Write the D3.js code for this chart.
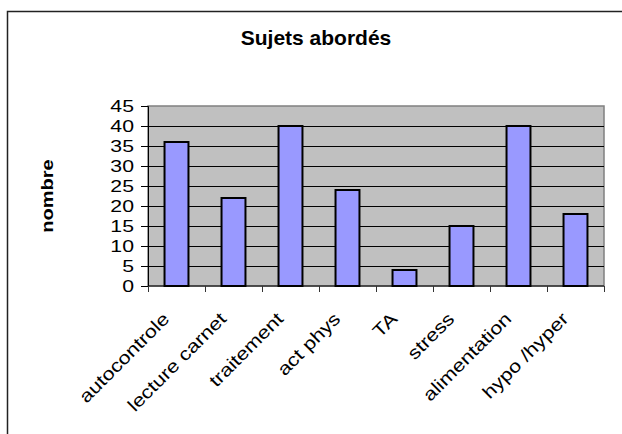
<!DOCTYPE html>
<html>
<head>
<meta charset="utf-8">
<script src="https://cdn.jsdelivr.net/npm/d3@7/dist/d3.min.js"></script>
<style>
  html, body { margin: 0; padding: 0; background: #fff; }
  svg { display: block; font-family: Arial, "Liberation Sans", sans-serif; }
</style>
</head>
<body>
<svg id="chart"></svg>
<script>
// DATA
const categories = ["autocontrole", "lecture carnet", "traitement", "act phys", "TA", "stress", "alimentation", "hypo /hyper"];
const values = [36, 22, 40, 24, 4, 15, 40, 18];
const yTicks = [0, 5, 10, 15, 20, 25, 30, 35, 40, 45];
const chartTitle = "Sujets abordés";
const yTitle = "nombre";

// LAYOUT
const width = 622;
const height = 434;
const plot = { left: 148, right: 604, top: 106, bottom: 286 };
const stretch = 1.25; // the original text is drawn wide
const labelStretch = 1.2;

const svg = d3.select("#chart")
    .attr("width", width)
    .attr("height", height);

// outer chart frame (runs past the right and bottom edges)
svg.append("rect")
    .attr("x", 7.5)
    .attr("y", 11.5)
    .attr("width", 640)
    .attr("height", 450)
    .attr("fill", "#fff")
    .attr("stroke", "#222")
    .attr("stroke-width", 1.5);

// scales
const x = d3.scaleBand()
    .domain(categories)
    .range([plot.left, plot.right])
    .paddingInner(0.58)
    .paddingOuter(0.29);

const y = d3.scaleLinear()
    .domain([0, 45])
    .range([plot.bottom, plot.top]);

// plot background
svg.append("rect")
    .attr("x", plot.left)
    .attr("y", y(45))
    .attr("width", plot.right - plot.left)
    .attr("height", y(0) - y(45))
    .attr("fill", "#c0c0c0")
    .attr("stroke", "#808080")
    .attr("stroke-width", 1.5);

// gridlines
svg.append("g")
    .selectAll("line")
    .data(yTicks.filter(d => d > 0 && d < 45))
    .join("line")
    .attr("x1", plot.left)
    .attr("x2", plot.right)
    .attr("y1", d => Math.round(y(d)) + 0.5)
    .attr("y2", d => Math.round(y(d)) + 0.5)
    .attr("stroke", "#000")
    .attr("stroke-width", 1);

// bars
svg.append("g")
    .selectAll("rect")
    .data(values)
    .join("rect")
    .attr("x", (d, i) => x(categories[i]))
    .attr("y", d => y(d))
    .attr("width", x.bandwidth())
    .attr("height", d => y(0) - y(d))
    .attr("fill", "#9999ff")
    .attr("stroke", "#000")
    .attr("stroke-width", 2);

// y axis
const yAxis = svg.append("g")
    .attr("transform", `translate(${plot.left}, 0)`)
    .call(d3.axisLeft(y).tickValues(yTicks).tickSize(7).tickPadding(7));

yAxis.select(".domain").attr("stroke", "#000");
yAxis.selectAll(".tick line").attr("stroke", "#000");
yAxis.selectAll(".tick text")
    .attr("font-size", 17)
    .attr("font-family", "Arial, 'Liberation Sans', sans-serif")
    .attr("fill", "#000")
    .attr("x", -14 / stretch)
    .attr("transform", `scale(${stretch},1)`);

// x axis line and boundary ticks
const step = x.step();
const boundaries = d3.range(categories.length + 1).map(i => plot.left + i * step);

svg.append("line")
    .attr("x1", plot.left)
    .attr("x2", plot.right)
    .attr("y1", y(0))
    .attr("y2", y(0))
    .attr("stroke", "#000");

svg.append("g")
    .selectAll("line")
    .data(boundaries)
    .join("line")
    .attr("x1", d => Math.round(d) + 0.5)
    .attr("x2", d => Math.round(d) + 0.5)
    .attr("y1", y(0))
    .attr("y2", y(0) + 6)
    .attr("stroke", "#333");

// category labels
svg.append("g")
    .selectAll("text")
    .data(categories)
    .join("text")
    .attr("transform", d => `translate(${x(d) + x.bandwidth() / 2 - 6}, ${y(0) + 34}) rotate(-45) scale(${labelStretch},1)`)
    .attr("text-anchor", "end")
    .attr("font-size", 18)
    .attr("fill", "#000")
    .text(d => d);

// title
svg.append("text")
    .attr("x", 316)
    .attr("y", 45)
    .attr("text-anchor", "middle")
    .attr("font-size", 21)
    .attr("font-weight", "bold")
    .text(chartTitle);

// y axis title
svg.append("text")
    .attr("transform", `translate(53, ${(plot.top + plot.bottom) / 2}) rotate(-90) scale(${stretch},1)`)
    .attr("text-anchor", "middle")
    .attr("font-size", 16)
    .attr("font-weight", "bold")
    .text(yTitle);
</script>
</body>
</html>
